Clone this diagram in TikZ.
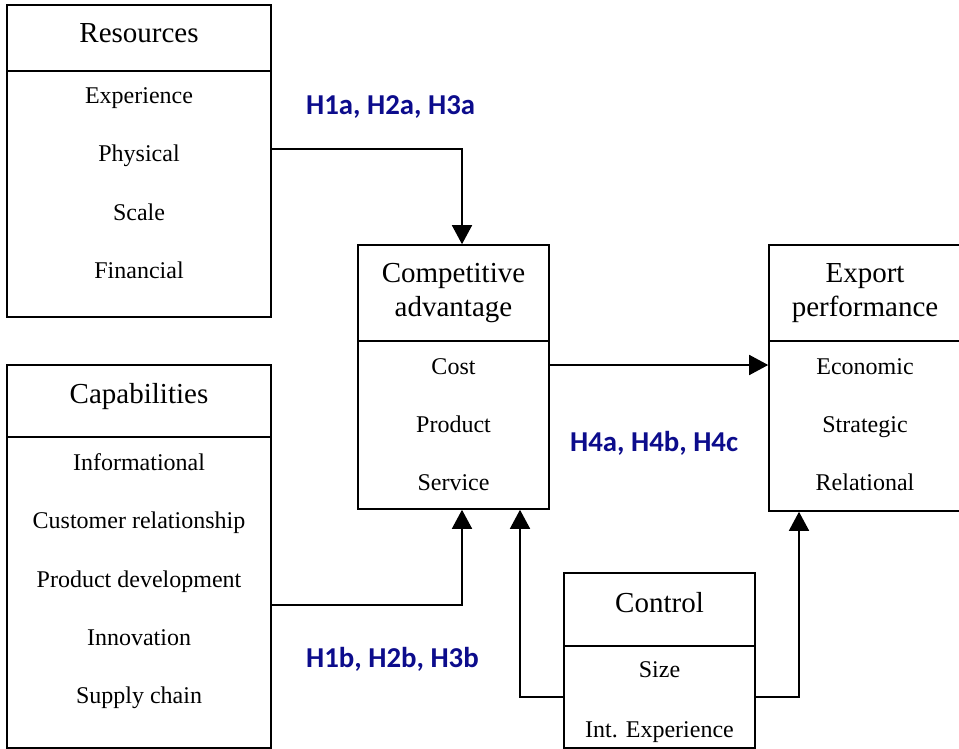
\documentclass[tikz,border=0pt]{standalone}
\usepackage{fontspec}
\setmainfont{Liberation Serif}
\newfontfamily\serfont{Liberation Serif}
\newfontfamily\labfont{Carlito}
\usetikzlibrary{arrows.meta}
\definecolor{hblue}{RGB}{12,12,140}
\begin{document}
\begin{tikzpicture}[x=1pt,y=-1pt,
  box/.style={draw=black,line width=1.6pt,inner sep=0pt,rectangle},
  sep/.style={line width=1.6pt},
  itemtext/.style={anchor=base,inner sep=0pt,font=\serfont\fontsize{24}{28}\selectfont},
  ttl/.style={anchor=base,inner sep=0pt,font=\serfont\fontsize{29}{34}\selectfont},
  hyp/.style={anchor=base west,inner sep=0pt,text=hblue,font=\labfont\bfseries\fontsize{28.8}{32}\selectfont},
  conn/.style={line width=1.6pt,-{Triangle[length=19pt,width=20pt]}}]
\useasboundingbox (0,0) rectangle (959,749);
% boxes
\node[box,minimum width=264pt,minimum height=312pt] (res) at (139,161) {};
\node[box,minimum width=264pt,minimum height=383pt] (cap) at (139,556.5) {};
\node[box,minimum width=191pt,minimum height=264pt] (ca) at (453.5,377) {};
\node[box,minimum width=192pt,minimum height=266pt] (ex) at (865,378) {};
\node[box,minimum width=191pt,minimum height=175pt] (ctl) at (659.5,660.5) {};
% header separators
\coordinate (hr) at (0,71);
\coordinate (hc) at (0,437);
\coordinate (hca) at (0,341);
\coordinate (hex) at (0,341);
\coordinate (hct) at (0,646);
\draw[sep] (res.west |- hr) -- (res.east |- hr);
\draw[sep] (cap.west |- hc) -- (cap.east |- hc);
\draw[sep] (ca.west |- hca) -- (ca.east |- hca);
\draw[sep] (ex.west |- hex) -- (ex.east |- hex);
\draw[sep] (ctl.west |- hct) -- (ctl.east |- hct);
% Resources
\node[ttl] (rt) at (139,43) {Resources};
\node[itemtext] (r1) at (139,104) {Experience};
\node[itemtext] (r2) at (139,162) {Physical};
\node[itemtext] (r3) at (139,220) {Scale};
\node[itemtext] (r4) at (139,278) {Financial};
% Capabilities
\node[ttl] (ct) at (139,403) {Capabilities};
\node[itemtext] (c1) at (139,470) {Informational};
\node[itemtext] (c2) at (139,528) {Customer relationship};
\node[itemtext] (c3) at (139,587) {Product development};
\node[itemtext] (c4) at (139,645) {Innovation};
\node[itemtext] (c5) at (139,703) {Supply chain};
% Competitive advantage
\node[ttl] (cat1) at (453.5,282) {Competitive};
\node[ttl] (cat2) at (453.5,316) {advantage};
\node[itemtext] (ca1) at (453.5,374) {Cost};
\node[itemtext] (ca2) at (453.5,432) {Product};
\node[itemtext] (ca3) at (453.5,490) {Service};
% Export performance
\node[ttl] (ext1) at (865,282) {Export};
\node[ttl] (ext2) at (865,316) {performance};
\node[itemtext] (ex1) at (865,374) {Economic};
\node[itemtext] (ex2) at (865,432) {Strategic};
\node[itemtext] (ex3) at (865,490) {Relational};
% Control
\node[ttl] (ctlt) at (659.5,612) {Control};
\node[itemtext] (ct1) at (659.5,677) {Size};
\node[itemtext] (ct2) at (659.5,737) {Int. Experience};
% hypothesis labels
\node[hyp] (h1) at (306,115) {H1a, H2a, H3a};
\node[hyp] (h4) at (570,451) {H4a, H4b, H4c};
\node[hyp] (h2) at (306,667) {H1b, H2b, H3b};
% connectors
\coordinate (y1) at (0,149);
\coordinate (x1) at (462,0);
\coordinate (y2) at (0,605);
\coordinate (y3) at (0,365);
\coordinate (y4) at (0,697);
\coordinate (x4) at (520,0);
\coordinate (x5) at (799,0);
\draw[conn] (res.east |- y1) -| (ca.north -| x1);
\draw[conn] (cap.east |- y2) -| (ca.south -| x1);
\draw[conn] (ca.east |- y3) -- (ex.west |- y3);
\draw[conn] (ctl.west |- y4) -| (ca.south -| x4);
\draw[conn] (ctl.east |- y4) -| (ex.south -| x5);
\end{tikzpicture}
\end{document}
